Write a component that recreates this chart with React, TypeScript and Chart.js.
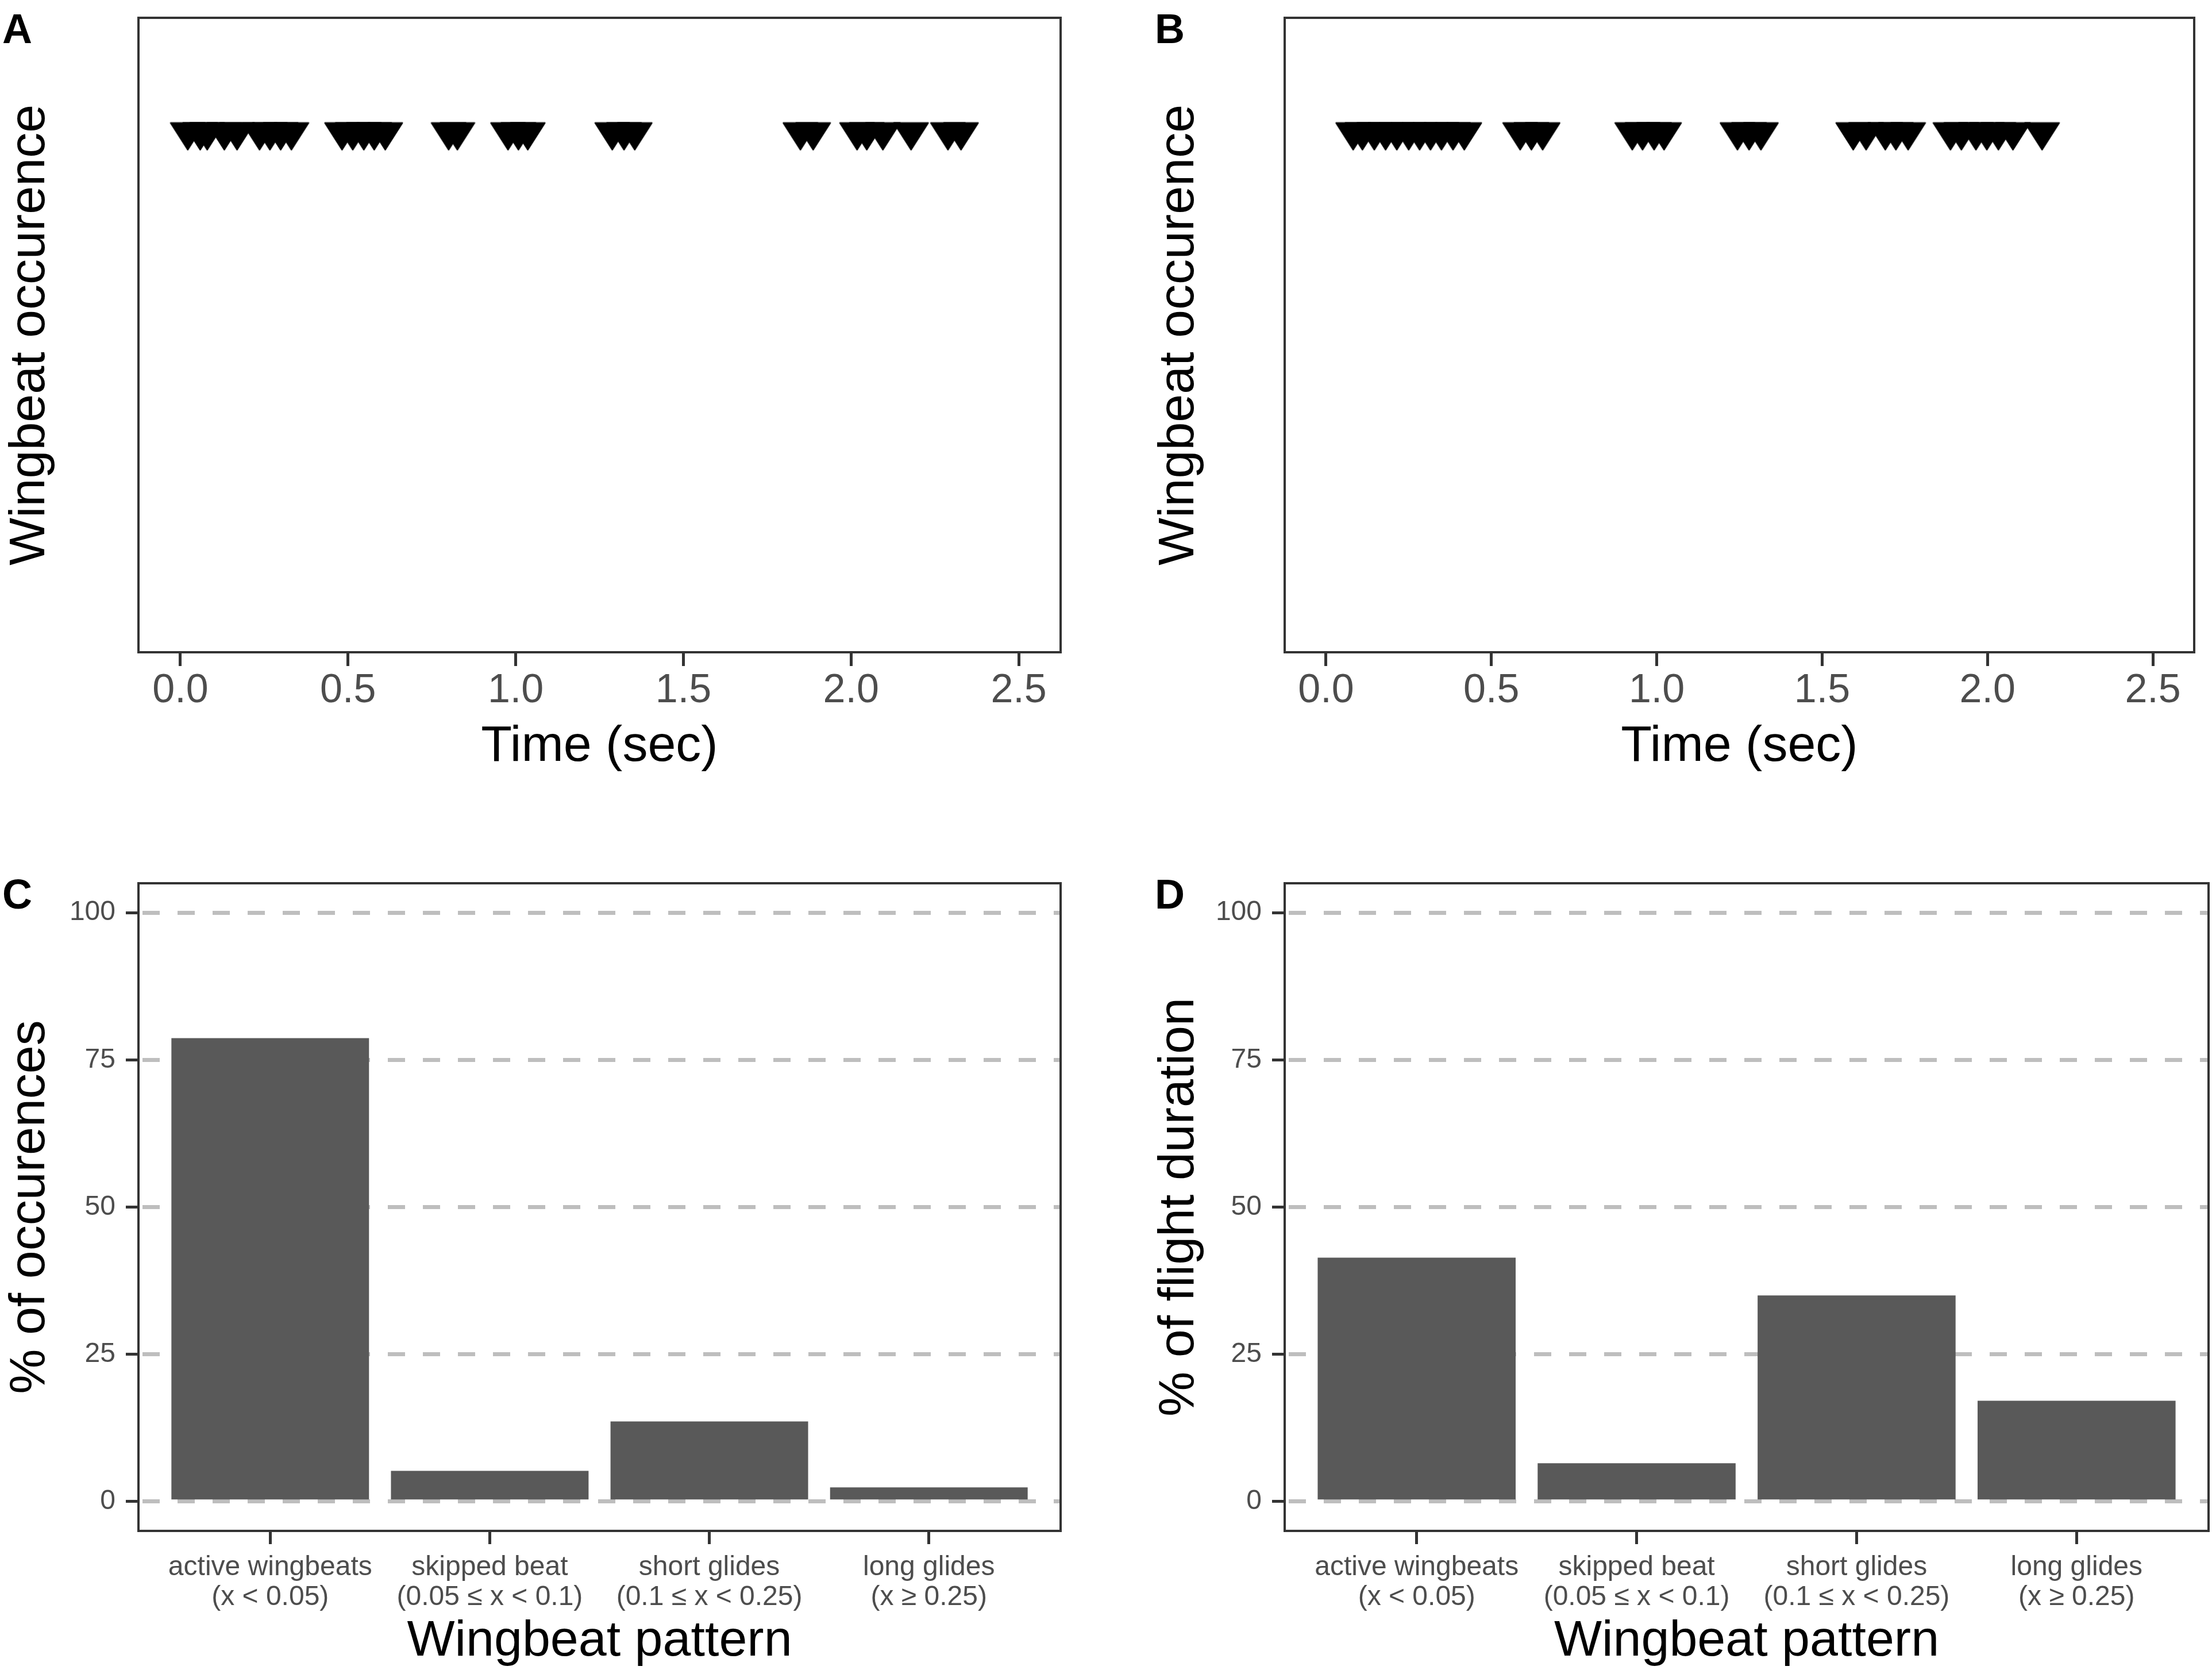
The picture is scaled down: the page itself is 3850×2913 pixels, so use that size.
import { useEffect, useRef } from 'react';
import { Chart, ChartConfiguration, Plugin, registerables } from 'chart.js';

Chart.register(...registerables);

// ---- data ----
const TIME_TICKS = [0, 0.5, 1, 1.5, 2, 2.5];
const BEATS_A = [
  0.022, 0.059, 0.080, 0.131, 0.169, 0.236, 0.267, 0.299, 0.331,
  0.482, 0.514, 0.547, 0.578, 0.611,
  0.800, 0.826,
  0.977, 1.008, 1.036,
  1.288, 1.323, 1.355,
  1.849, 1.887,
  2.018, 2.047, 2.095, 2.179,
  2.289, 2.328,
];
const BEATS_B = [
  0.082, 0.110, 0.146, 0.180, 0.214, 0.250, 0.283, 0.316, 0.349, 0.384, 0.418,
  0.587, 0.621, 0.655,
  0.926, 0.957, 0.992, 1.022,
  1.244, 1.279, 1.315,
  1.594, 1.633, 1.691, 1.723, 1.760,
  1.888, 1.921, 1.965, 1.998, 2.033, 2.077, 2.165,
];
const BEAT_LEVEL = 1;
const PATTERNS = [
  ['active wingbeats', '(x < 0.05)'],
  ['skipped beat', '(0.05 ≤ x < 0.1)'],
  ['short glides', '(0.1 ≤ x < 0.25)'],
  ['long glides', '(x ≥ 0.25)'],
];
const PCT_TICKS = [0, 25, 50, 75, 100];
const PCT_OCCURENCES = [78.7, 5.2, 13.6, 2.4];
const PCT_DURATION = [41.4, 6.5, 35.0, 17.1];

const FONT = "'Liberation Sans', Arial, Helvetica, sans-serif";
const TICK_COLOR = '#4D4D4D';
const AXIS_COLOR = '#333333';

type Box = { left: number; top: number; width: number; height: number; area: { left: number; top: number; right: number; bottom: number } };

const BOX_A: Box = { left: 0, top: 0, width: 2000, height: 1456, area: { left: 241, top: 10, right: 1846, bottom: 1135 } };
const BOX_B: Box = { left: 2000, top: 0, width: 1850, height: 1456, area: { left: 236, top: 10, right: 1842, bottom: 1135 } };
const BOX_C: Box = { left: 0, top: 1456, width: 2000, height: 1457, area: { left: 241, top: 81, right: 1846, bottom: 1208 } };
const BOX_D: Box = { left: 2000, top: 1456, width: 1850, height: 1457, area: { left: 236, top: 81, right: 1844, bottom: 1208 } };

// panel frame + panel letter
function framePlugin(letter: string, letterX: number): Plugin {
  return {
    id: 'frame' + letter,
    afterDraw(chart) {
      const { ctx, chartArea: a } = chart;
      ctx.save();
      ctx.strokeStyle = AXIS_COLOR;
      ctx.lineWidth = 4;
      ctx.strokeRect(a.left, a.top, a.right - a.left, a.bottom - a.top);
      ctx.fillStyle = '#000';
      ctx.font = `bold 72px ${FONT}`;
      ctx.textBaseline = 'top';
      ctx.textAlign = 'left';
      ctx.fillText(letter, letterX, a.top - 12);
      ctx.restore();
    },
  };
}

function makeTriangle() {
  const c = document.createElement('canvas');
  c.width = 63;
  c.height = 50;
  const g = c.getContext('2d')!;
  g.fillStyle = '#000';
  g.strokeStyle = '#000';
  g.lineJoin = 'round';
  g.lineWidth = 2;
  g.beginPath();
  g.moveTo(1.5, 1.5);
  g.lineTo(61.5, 1.5);
  g.lineTo(31.5, 48.5);
  g.closePath();
  g.fill();
  g.stroke();
  return c;
}

function layoutPadding(b: Box) {
  return { top: b.area.top, right: b.width - b.area.right, left: 0, bottom: 0 };
}

function timeConfig(b: Box, beats: number[], letter: string, letterX: number, tri: HTMLCanvasElement): ChartConfiguration {
  return {
    type: 'scatter',
    data: {
      datasets: [{
        data: beats.map((t) => ({ x: t, y: BEAT_LEVEL })),
        pointStyle: tri,
        pointRadius: 30,
        pointHoverRadius: 30,
        backgroundColor: '#000',
        borderColor: '#000',
      }],
    },
    options: {
      animation: false,
      responsive: true,
      maintainAspectRatio: false,
      devicePixelRatio: 1,
      events: [],
      layout: { padding: layoutPadding(b) },
      plugins: { legend: { display: false }, tooltip: { enabled: false } },
      scales: {
        x: {
          type: 'linear',
          min: -0.125,
          max: 2.625,
          afterBuildTicks: (s) => { s.ticks = TIME_TICKS.map((value) => ({ value })); },
          afterFit: (s) => { s.height = b.height - b.area.bottom; },
          ticks: {
            callback: (v) => Number(v).toFixed(1),
            color: TICK_COLOR,
            font: { size: 70 },
            padding: 2,
            maxRotation: 0,
            autoSkip: false,
          },
          grid: { display: true, drawOnChartArea: false, drawTicks: true, tickLength: 24, tickColor: AXIS_COLOR, tickWidth: 5 },
          border: { display: false },
          title: { display: true, text: 'Time (sec)', color: '#000', font: { size: 88 }, padding: { top: 0, bottom: 103 } },
        },
        y: {
          type: 'linear',
          min: 0,
          max: 1.23,
          afterFit: (s) => { s.width = b.area.left; },
          ticks: { display: false },
          grid: { display: false },
          border: { display: false },
          title: { display: true, text: 'Wingbeat occurence', color: '#000', font: { size: 88 }, padding: 0 },
        },
      },
    },
    plugins: [framePlugin(letter, letterX)],
  };
}

function barConfig(b: Box, values: number[], yTitle: string, letter: string, letterX: number): ChartConfiguration {
  return {
    type: 'bar',
    data: {
      datasets: [{
        data: values.map((v, i) => ({ x: i + 1, y: v })),
        backgroundColor: '#595959',
        borderWidth: 0,
        barPercentage: 0.9,
        categoryPercentage: 1,
      }],
    },
    options: {
      animation: false,
      responsive: true,
      maintainAspectRatio: false,
      devicePixelRatio: 1,
      events: [],
      layout: { padding: layoutPadding(b) },
      plugins: { legend: { display: false }, tooltip: { enabled: false } },
      scales: {
        x: {
          type: 'linear',
          min: 0.4,
          max: 4.6,
          offset: false,
          afterBuildTicks: (s) => { s.ticks = PATTERNS.map((_, i) => ({ value: i + 1 })); },
          afterFit: (s) => { s.height = b.height - b.area.bottom; },
          ticks: {
            callback: (v) => PATTERNS[Number(v) - 1],
            color: TICK_COLOR,
            font: { size: 48, lineHeight: 1.08 },
            padding: 15,
            maxRotation: 0,
            autoSkip: false,
          },
          grid: { display: true, offset: false, drawOnChartArea: false, drawTicks: true, tickLength: 23, tickColor: AXIS_COLOR, tickWidth: 5 },
          border: { display: false },
          title: { display: true, text: 'Wingbeat pattern', color: '#000', font: { size: 88 }, padding: { top: 0, bottom: 3 } },
        },
        y: {
          type: 'linear',
          min: -5,
          max: 105,
          afterBuildTicks: (s) => { s.ticks = PCT_TICKS.map((value) => ({ value })); },
          afterFit: (s) => { s.width = b.area.left; },
          ticks: { color: TICK_COLOR, font: { size: 48 }, padding: 18 },
          grid: { color: '#BEBEBE', lineWidth: 7, drawTicks: true, tickLength: 22, tickColor: AXIS_COLOR, tickWidth: 5 },
          border: { display: false, dash: [30, 31], dashOffset: -7 },
          title: { display: true, text: yTitle, color: '#000', font: { size: 88 }, padding: 0 },
        },
      },
    },
    plugins: [framePlugin(letter, letterX)],
  };
}

export default function App() {
  const refA = useRef<HTMLCanvasElement>(null);
  const refB = useRef<HTMLCanvasElement>(null);
  const refC = useRef<HTMLCanvasElement>(null);
  const refD = useRef<HTMLCanvasElement>(null);

  useEffect(() => {
    document.body.style.margin = '0';
    Chart.defaults.font.family = FONT;
    const tri = makeTriangle();
    const charts: Chart[] = [];
    const add = (ref: React.RefObject<HTMLCanvasElement | null>, cfg: ChartConfiguration) => {
      const ctx = ref.current?.getContext('2d');
      if (ctx) charts.push(new Chart(ctx, cfg));
    };
    add(refA, timeConfig(BOX_A, BEATS_A, 'A', 4, tri));
    add(refB, timeConfig(BOX_B, BEATS_B, 'B', 10, tri));
    add(refC, barConfig(BOX_C, PCT_OCCURENCES, '% of occurences', 'C', 4));
    add(refD, barConfig(BOX_D, PCT_DURATION, '% of flight duration', 'D', 10));
    return () => { charts.forEach((c) => c.destroy()); };
  }, []);

  const place = (b: Box) => ({ position: 'absolute' as const, left: b.left, top: b.top, width: b.width, height: b.height });

  return (
    <div style={{ position: 'relative', width: 3850, height: 2913, background: '#fff', overflow: 'hidden' }}>
      <div style={place(BOX_A)}><canvas ref={refA}></canvas></div>
      <div style={place(BOX_B)}><canvas ref={refB}></canvas></div>
      <div style={place(BOX_C)}><canvas ref={refC}></canvas></div>
      <div style={place(BOX_D)}><canvas ref={refD}></canvas></div>
    </div>
  );
}
